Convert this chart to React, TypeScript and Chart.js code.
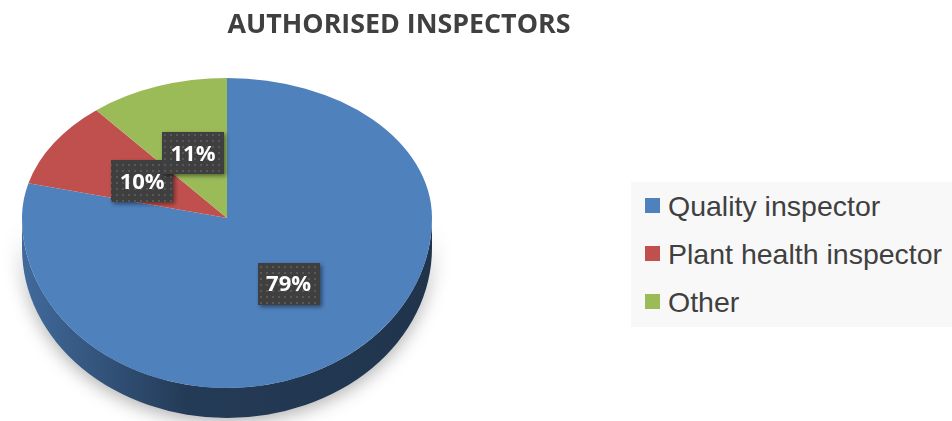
import React, { useEffect, useRef } from "react";
import { Chart, registerables } from "chart.js";

Chart.register(...registerables);

const chartTitle = "AUTHORISED INSPECTORS";
const categories = ["Quality inspector", "Plant health inspector", "Other"];
const values = [79, 10, 11];
const percentLabels = ["79%", "10%", "11%"];
const colors = ["#4f81bd", "#c0504d", "#9bbb59"];

// 3D look (styling geometry)
const RX = 205;
const RY_TOP = 140;
const RY_BOTTOM = 170;
const DEPTH = 30;
const LABEL_F = 0.49;

function shade(hex: string, f: number) {
  const n = parseInt(hex.slice(1), 16);
  const r = Math.round(((n >> 16) & 255) * f);
  const g = Math.round(((n >> 8) & 255) * f);
  const b = Math.round((n & 255) * f);
  return `rgb(${r},${g},${b})`;
}

function makePattern(ctx: CanvasRenderingContext2D) {
  const c = document.createElement("canvas");
  c.width = 6;
  c.height = 6;
  const p = c.getContext("2d")!;
  p.fillStyle = "#3f3f3f";
  p.fillRect(0, 0, 6, 6);
  p.fillStyle = "#585858";
  p.fillRect(2, 2, 2, 2);
  return ctx.createPattern(c, "repeat")!;
}

const pie3d = {
  id: "pie3d",
  beforeDatasetsDraw(chart: any) {
    const meta = chart.getDatasetMeta(0);
    const first = meta.data[0];
    if (!first) return;
    const { x, y, outerRadius: R } = first;
    const ctx: CanvasRenderingContext2D = chart.ctx;

    // side walls (front half)
    meta.data.forEach((el: any, i: number) => {
      const s = Math.max(el.startAngle, 0);
      const e = Math.min(el.endAngle, Math.PI);
      if (s >= e) return;
      const col = colors[i % colors.length];
      ctx.save();
      ctx.beginPath();
      ctx.ellipse(x, y, RX, RY_BOTTOM, 0, s, e, false);
      ctx.lineTo(x + RX * Math.cos(e), y + DEPTH + RY_BOTTOM * Math.sin(e));
      ctx.ellipse(x, y + DEPTH, RX, RY_BOTTOM, 0, e, s, true);
      ctx.closePath();
      const g = ctx.createLinearGradient(x - RX, 0, x + RX, 0);
      g.addColorStop(0, shade(col, 0.82));
      g.addColorStop(0.18, shade(col, 0.66));
      g.addColorStop(0.4, shade(col, 0.46));
      g.addColorStop(1, shade(col, 0.4));
      ctx.shadowColor = "rgba(0,0,0,0.32)";
      ctx.shadowBlur = 18;
      ctx.shadowOffsetY = 4;
      ctx.fillStyle = g;
      ctx.fill();
      ctx.restore();
    });

    // top half of the surface (back)
    ctx.save();
    ctx.beginPath();
    ctx.rect(0, 0, chart.width, y + 1);
    ctx.clip();
    ctx.translate(x, y);
    ctx.scale(RX / R, RY_TOP / R);
    ctx.translate(-x, -y);
  },
  afterDatasetsDraw(chart: any) {
    const meta = chart.getDatasetMeta(0);
    const first = meta.data[0];
    if (!first) return;
    const { x, y, outerRadius: R } = first;
    const ctx: CanvasRenderingContext2D = chart.ctx;
    ctx.restore();

    // bottom half of the surface (front)
    ctx.save();
    ctx.beginPath();
    ctx.rect(0, y, chart.width, chart.height);
    ctx.clip();
    ctx.translate(x, y);
    ctx.scale(RX / R, RY_BOTTOM / R);
    ctx.translate(-x, -y);
    meta.controller.draw();
    ctx.restore();

    // data labels
    const pattern = makePattern(ctx);
    meta.data.forEach((el: any, i: number) => {
      const mid = (el.startAngle + el.endAngle) / 2;
      const sn = Math.sin(mid);
      const px = x + RX * LABEL_F * Math.cos(mid);
      const py = y + (sn < 0 ? RY_TOP : RY_BOTTOM) * LABEL_F * sn;
      const w = 62;
      const h = 42;
      ctx.save();
      ctx.shadowColor = "rgba(0,0,0,0.45)";
      ctx.shadowBlur = 4;
      ctx.shadowOffsetX = 2;
      ctx.shadowOffsetY = 2;
      ctx.fillStyle = pattern;
      ctx.fillRect(Math.round(px - w / 2), Math.round(py - h / 2), w, h);
      ctx.restore();
      ctx.save();
      ctx.fillStyle = "#ffffff";
      ctx.font = "bold 22px 'Open Sans'";
      ctx.textAlign = "center";
      ctx.textBaseline = "middle";
      ctx.fillText(percentLabels[i], px, py + 1);
      ctx.restore();
    });
  },
};

export default function App() {
  const ref = useRef<HTMLCanvasElement>(null);
  useEffect(() => {
    const canvas = ref.current!;
    const chart = new Chart(canvas, {
      type: "pie",
      data: {
        labels: categories,
        datasets: [
          {
            data: values,
            backgroundColor: colors,
            borderWidth: 0,
            hoverOffset: 0,
            clip: false,
          } as any,
        ],
      },
      options: {
        responsive: false,
        animation: false,
        events: [],
        layout: { padding: { left: 77, right: 575, top: 68, bottom: 53 } },
        plugins: {
          legend: { display: false },
          title: { display: false },
          tooltip: { enabled: false },
        },
      },
      plugins: [pie3d as any],
    });
    return () => chart.destroy();
  }, []);

  return (
    <div
      style={{
        position: "absolute",
        left: 0,
        top: 0,
        width: 952,
        height: 421,
        overflow: "hidden",
        background: "#ffffff",
      }}
    >
      <canvas ref={ref} width={952} height={421} style={{ position: "absolute", left: 0, top: 0 }} />
      <div
        style={{
          position: "absolute",
          left: 0,
          top: 10,
          width: 798,
          textAlign: "center",
          fontFamily: "'Open Sans', sans-serif",
          fontWeight: 700,
          fontSize: 26.8,
          lineHeight: "26px",
          color: "#404040",
          whiteSpace: "nowrap",
        }}
      >
        {chartTitle}
      </div>
      <div
        style={{
          position: "absolute",
          left: 631,
          top: 182,
          width: 321,
          height: 145,
          background: "#f8f8f8",
        }}
      >
        {categories.map((c, i) => (
          <div
            key={c}
            style={{
              position: "relative",
              height: 48,
              lineHeight: "48px",
              fontFamily: "'Liberation Sans', Arial, sans-serif",
              fontSize: 28.5,
              color: "#404040",
              whiteSpace: "nowrap",
            }}
          >
            <span
              style={{
                position: "absolute",
                left: 14,
                top: 16,
                width: 15,
                height: 15,
                background: colors[i],
              }}
            />
            <span style={{ position: "absolute", left: 37, top: 0 }}>{c}</span>
          </div>
        ))}
      </div>
    </div>
  );
}
